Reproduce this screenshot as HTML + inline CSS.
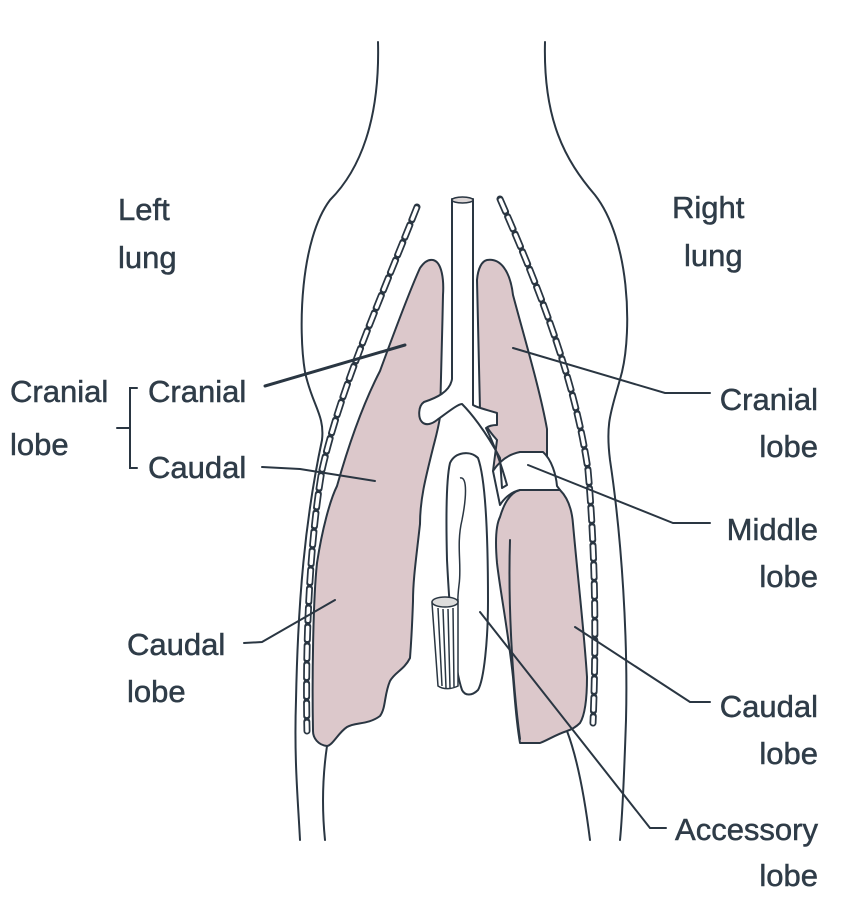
<!DOCTYPE html>
<html><head><meta charset="utf-8"><style>
html,body{margin:0;padding:0;background:#fff;}
svg{display:block}
text{font-family:"Liberation Sans",sans-serif;font-size:31px;fill:#2f3c48;stroke:#2f3c48;stroke-width:0.5px;}
</style></head><body>
<svg width="867" height="918" viewBox="0 0 867 918" xmlns="http://www.w3.org/2000/svg">
<g fill="none" stroke="#2a3642" stroke-width="2" stroke-linejoin="round" stroke-linecap="round">
<path d="M378 42 C380 120 360 170 330 200 C300 240 298 330 305 372 C312 405 325 415 322 440 C305 520 298 600 296 700 C294 760 298 800 300 840"/>
<path d="M545 42 C543 120 565 160 595 195 C630 240 632 330 622 372 C612 410 605 420 610 460 C622 540 628 640 626 720 C624 780 622 820 620 840"/>
<path d="M327 746 C322 780 322 810 325 840"/>
<path d="M567 731 C578 760 585 800 590 840"/>
<path d="M417 207 C380 300 340 390 322 470 C310 540 305 640 307 731" stroke-width="7" stroke-dasharray="14 5"/>
<path d="M417 207 C380 300 340 390 322 470 C310 540 305 640 307 731" stroke="#fff" stroke-width="3.5" stroke-dasharray="12 7" stroke-dashoffset="-1"/>
<path d="M500 199 C540 290 575 380 588 470 C596 560 596 650 593 723" stroke-width="7" stroke-dasharray="14 5"/>
<path d="M500 199 C540 290 575 380 588 470 C596 560 596 650 593 723" stroke="#fff" stroke-width="3.5" stroke-dasharray="12 7" stroke-dashoffset="-1"/>
</g>
<g fill="#dcc8cb" stroke="#2a3642" stroke-width="2" stroke-linejoin="round">
<path d="M433 260 C442 262 444 280 443 295 C442 340 441 390 440 417 C438 430 435 440 433 448 C425 480 420 500 420 524 C416 560 413 580 413 601 C412 630 411 645 410 658 C404 670 395 672 390 681 C384 695 386 708 380 716 C368 725 355 722 347 727 C338 733 333 745 327 746 C318 745 313 738 313 731 C312 680 313 600 317 563 C322 530 330 500 337 486 C350 440 365 400 380 371 C395 330 410 290 420 268 C424 262 428 259 433 260 Z"/>
<path d="M487 260 C500 258 510 270 513 295 C525 340 540 390 547 429 L547 456 L520 452 C505 458 498 465 493 471 L497 440 C488 430 481 420 480 410 C479 360 478 320 477 280 C478 268 482 261 487 260 Z"/>
<path d="M493 471 C500 460 510 454 520 452 L543 452 C552 460 556 475 557 486 L560 490 L520 490 C510 492 503 500 500 505 Z" fill="#fff"/>
<path d="M520 490 L560 490 C568 498 572 510 573 524 C578 580 584 630 587 677 C587 700 585 715 580 723 C575 728 570 730 567 731 C555 735 548 740 540 743 L520 743 C516 720 515 700 513 677 C508 630 500 590 497 563 C495 540 496 525 500 517 C505 500 512 492 520 490 Z"/>
</g>
<g fill="none" stroke="#2a3642" stroke-width="2" stroke-linecap="round">
<path d="M510 540 C508 600 512 680 520 739"/>
</g>
<path d="M450 463 C455 452 470 450 478 458 C486 480 488 540 488 601 C488 640 484 680 478 690 C472 696 465 696 462 690 C455 670 450 620 447 560 C446 520 446 480 450 463 Z" fill="#fff" stroke="#2a3642" stroke-width="2"/>
<path d="M460 478 C468 476 466 500 462 520 C456 545 462 565 459 585 C457 600 458 610 457 620" fill="none" stroke="#2a3642" stroke-width="1.5"/>
<path d="M452 199 L452 379 C450 392 436 398 424 402 C418 406 418 418 422 422 C426 426 432 424 437 420 C448 412 458 404 462 404 C470 412 485 430 500 458 L502 488 L507 485 C500 460 492 440 486 428 C490 425 495 425 497 425 L497 413 C488 410 478 408 473 405 L473 199 Z" fill="#fff" stroke="#2a3642" stroke-width="2" stroke-linejoin="round"/>
<ellipse cx="462.5" cy="200" rx="10.5" ry="3" fill="#dcd6d6" stroke="#2a3642" stroke-width="1.5"/>
<g stroke="#2a3642" stroke-width="1.5" fill="#fff">
<path d="M432 603 L438 686 C444 690 452 689 458 686 L458 600 Z"/>
<ellipse cx="445" cy="602" rx="13" ry="5" fill="#ddd"/>
<path d="M438 608 L442 686 M443 609 L446 688 M448 609 L450 688 M453 608 L454 687" fill="none"/>
</g>
<g fill="none" stroke="#2a3642" stroke-width="2" stroke-linecap="round">
<path d="M265 386 L405 345" stroke-width="3"/>
<path d="M262 467 L300 469 L375 481"/>
<path d="M244 643 L262 642 L335 600"/>
<path d="M513 348 L665 393 L710 393"/>
<path d="M528 465 L673 523 L710 523"/>
<path d="M575 627 L690 702 L710 702"/>
<path d="M480 612 L650 828 L666 828"/>
<path d="M137 388 L130 388 L130 468 L137 468 M117 428 L130 428"/>
</g>
<text x="118" y="220">Left</text>
<text x="118" y="268">lung</text>
<text x="672" y="218">Right</text>
<text x="684" y="266">lung</text>
<text x="10" y="402">Cranial</text>
<text x="10" y="455">lobe</text>
<text x="148" y="402">Cranial</text>
<text x="148" y="478">Caudal</text>
<text x="127" y="655">Caudal</text>
<text x="127" y="702">lobe</text>
<g text-anchor="end">
<text x="818" y="410">Cranial</text>
<text x="818" y="457">lobe</text>
<text x="818" y="540">Middle</text>
<text x="818" y="587">lobe</text>
<text x="818" y="717">Caudal</text>
<text x="818" y="764">lobe</text>
<text x="818" y="840">Accessory</text>
<text x="818" y="886">lobe</text>
</g>
</svg>
</body></html>
